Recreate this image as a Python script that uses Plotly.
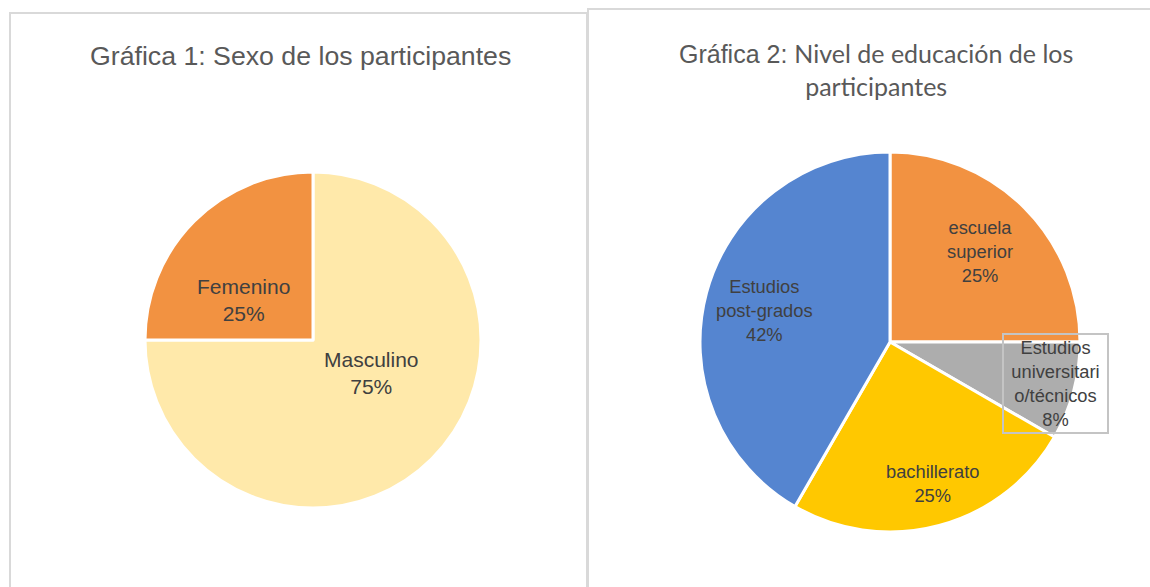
import math
import plotly.graph_objects as go

W, H = 1150, 587

# ---- data ----
sexo_labels = ["Masculino", "Femenino"]
sexo_counts = [9, 3]

edu_labels = ["escuela superior", "Estudios universitario/técnicos", "bachillerato", "Estudios post-grados"]
edu_text = ["escuela<br>superior", "Estudios<br>universitari<br>o/técnicos", "bachillerato", "Estudios<br>post-grados"]
edu_counts = [3, 1, 3, 5]

title1 = "Gráfica 1: Sexo de los participantes"
title2_a = "Gráfica 2:"
title2_b = "Nivel de educación de los"
title2_c = "participantes"

# ---- style ----
sexo_colors = ["#FFE9AA", "#F29241"]
edu_colors = ["#F29241", "#ADADAD", "#FFC800", "#5585D0"]
label_color = "#404040"
title_color = "#595959"
ARIAL = "Liberation Sans"
CALIBRI = "Lato"

pie1 = dict(cx=313, cy=340, r=168)
pie2 = dict(cx=890, cy=342, r=190)
pie1_frac = [0.40, 0.48]
pie1_rot = [-16, -15]
pie2_frac = [0.67, 0.90, 0.78, 0.68]
pie2_rot = [0, -1, -2, -1]


def domain(p):
    return dict(x=[(p["cx"] - p["r"]) / W, (p["cx"] + p["r"]) / W],
                y=[1 - (p["cy"] + p["r"]) / H, 1 - (p["cy"] - p["r"]) / H])


def label_positions(p, vals, fracs, rots):
    tot = sum(vals)
    cum = 0
    out = []
    for v, f, rot in zip(vals, fracs, rots):
        mid = (cum + v / 2) / tot * 360 + rot
        cum += v
        a = math.radians(mid)
        x = p["cx"] + f * p["r"] * math.sin(a)
        y = p["cy"] - f * p["r"] * math.cos(a)
        out.append((x / W, 1 - y / H, round(v / tot * 100)))
    return out


fig = go.Figure()
fig.add_trace(go.Pie(labels=sexo_labels, values=sexo_counts, sort=False,
                     direction="clockwise", rotation=0,
                     marker=dict(colors=sexo_colors, line=dict(color="white", width=3)),
                     textinfo="none", hoverinfo="label+percent",
                     domain=domain(pie1), showlegend=False))
fig.add_trace(go.Pie(labels=edu_labels, values=edu_counts, sort=False,
                     direction="clockwise", rotation=0,
                     marker=dict(colors=edu_colors, line=dict(color="white", width=3)),
                     textinfo="none", hoverinfo="label+percent",
                     domain=domain(pie2), showlegend=False))

ann = []
for (x, y, pct), lab in zip(label_positions(pie1, sexo_counts, pie1_frac, pie1_rot), sexo_labels):
    ann.append(dict(x=x, y=y, xref="paper", yref="paper", showarrow=False,
                    text=f"{lab}<br>{pct}%", xanchor="center", yanchor="middle",
                    font=dict(family=ARIAL, size=21, color=label_color)))
for i, ((x, y, pct), lab) in enumerate(zip(label_positions(pie2, edu_counts, pie2_frac, pie2_rot), edu_text)):
    d = dict(x=x, y=y, xref="paper", yref="paper", showarrow=False,
             text=f"{lab}<br>{pct}%", xanchor="center", yanchor="middle",
             font=dict(family=ARIAL, size=18.3, color=label_color))
    if i == 1:
        d.update(bordercolor="#C4C4C4", borderwidth=2, borderpad=1, width=101, height=95)
    ann.append(d)

ann.append(dict(x=300 / W, y=1 - 56 / H, xref="paper", yref="paper", showarrow=False,
                text=title1, xanchor="center", yanchor="middle",
                font=dict(family=ARIAL, size=26.7, color=title_color)))
ann.append(dict(x=876 / W, y=1 - 70 / H, xref="paper", yref="paper", showarrow=False,
                text=(f"{title2_a} <span style=\"font-family:{CALIBRI}\">{title2_b}</span><br>"
                      f"<span style=\"font-family:{CALIBRI}\">{title2_c}</span>"),
                xanchor="center", yanchor="middle",
                font=dict(family=ARIAL, size=25, color=title_color)))

shapes = [
    dict(type="rect", xref="paper", yref="paper", x0=10 / W, x1=587 / W, y0=-0.05, y1=1 - 13 / H,
         line=dict(color="#D9D9D9", width=2), fillcolor="rgba(0,0,0,0)", layer="below"),
    dict(type="rect", xref="paper", yref="paper", x0=588 / W, x1=1.05, y0=-0.05, y1=1 - 9 / H,
         line=dict(color="#D9D9D9", width=2), fillcolor="rgba(0,0,0,0)", layer="below"),
]

fig.update_layout(width=W, height=H, margin=dict(l=0, r=0, t=0, b=0),
                  paper_bgcolor="white", plot_bgcolor="white",
                  annotations=ann, shapes=shapes)

fig.write_html("out.html", config={"displayModeBar": False},
               post_script="document.body.style.margin='0';document.body.style.overflow='hidden';")
